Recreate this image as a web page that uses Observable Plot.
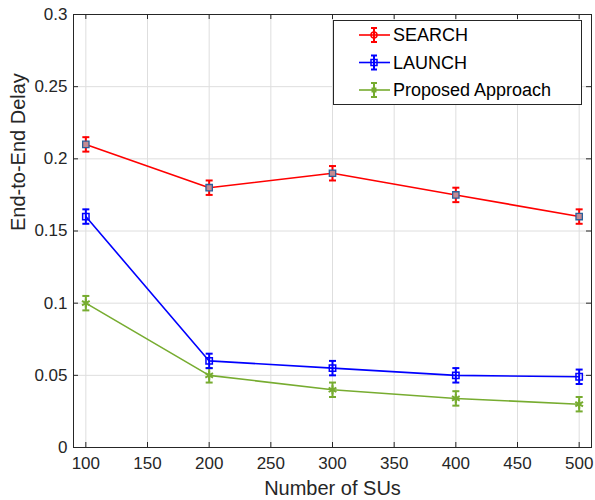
<!DOCTYPE html>
<html><head><meta charset="utf-8">
<script src="https://cdn.jsdelivr.net/npm/d3@7"></script>
<script src="https://cdn.jsdelivr.net/npm/@observablehq/plot@0.6"></script>
<style>
body{margin:0;background:#fff}
#wrap{position:relative;width:595px;height:500px;font-family:"Liberation Sans",Arial,Helvetica,sans-serif}
#legend{position:absolute;left:0;top:0;pointer-events:none}
</style>
</head><body><div id="wrap"></div>
<script>
// ---- data ----
const numberOfSUs = [100, 200, 300, 400, 500];
const seriesNames = ["SEARCH", "LAUNCH", "Proposed Approach"];
const searchDelay = [0.21, 0.18, 0.19, 0.175, 0.16];
const launchDelay = [0.16, 0.06, 0.055, 0.05, 0.049];
const proposedDelay = [0.10, 0.05, 0.04, 0.034, 0.030];
const searchErr = [0.005, 0.005, 0.005, 0.005, 0.005];
const launchErr = [0.005, 0.005, 0.005, 0.005, 0.005];
const proposedErr = [0.005, 0.005, 0.005, 0.005, 0.005];
const xTicks = [100, 150, 200, 250, 300, 350, 400, 450, 500];
const yTicks = [0, 0.05, 0.1, 0.15, 0.2, 0.25, 0.3];
const yTickLabels = ["0", "0.05", "0.1", "0.15", "0.2", "0.25", "0.3"];
const xLabel = "Number of SUs";
const yLabel = "End-to-End Delay";

// ---- styles ----
const colors = ["#ff0000", "#0000ff", "#77ac30"];
const W = 595, H = 500, mt = 14, mr = 4, mb = 53, ml = 73;
const ph = H - mt - mb, pw = W - ml - mr;
const ink = "#262626";

const values = [searchDelay, launchDelay, proposedDelay];
const errs = [searchErr, launchErr, proposedErr];
const rows = [];
seriesNames.forEach((s, i) => numberOfSUs.forEach((x, j) => rows.push({
  series: s, idx: i, x, y: values[i][j], lo: values[i][j] - errs[i][j], hi: values[i][j] + errs[i][j]
})));

const capSymbol = {draw(ctx, size) { const w = Math.sqrt(size) / 2; ctx.moveTo(-w, 0); ctx.lineTo(w, 0); }};

const marks = [
  Plot.ruleX(xTicks, {x: d => d, stroke: "#dedede", strokeWidth: 1}),
  Plot.ruleY(yTicks, {y: d => d, stroke: "#dedede", strokeWidth: 1}),
];
[2, 1, 0].forEach(i => {
  const d = rows.filter(r => r.idx === i);
  marks.push(Plot.line(d, {x: "x", y: "y", stroke: colors[i], strokeWidth: 1.6}));
  marks.push(Plot.ruleX(d, {x: "x", y1: "lo", y2: "hi", stroke: colors[i], strokeWidth: 2}));
  marks.push(Plot.dot(d, {x: "x", y: "lo", symbol: capSymbol, r: 3.95, stroke: colors[i], strokeWidth: 2, fill: "none"}));
  marks.push(Plot.dot(d, {x: "x", y: "hi", symbol: capSymbol, r: 3.95, stroke: colors[i], strokeWidth: 2, fill: "none"}));
  if (i === 0) marks.push(Plot.dot(d, {x: "x", y: "y", symbol: "square", r: 3.6, fill: "#c48a92", stroke: "#2b5f9a", strokeWidth: 1.3}));
  if (i === 1) marks.push(Plot.dot(d, {x: "x", y: "y", symbol: "square", r: 3.6, fill: "none", stroke: colors[1], strokeWidth: 1.5}));
  if (i === 2) marks.push(Plot.dot(d, {x: "x", y: "y", symbol: "asterisk", r: 4.2, stroke: colors[2], strokeWidth: 2}));
});
marks.push(
  Plot.frame({stroke: ink, strokeWidth: 1}),
  Plot.tickX(xTicks, {x: d => d, insetTop: ph - 5, stroke: ink}),
  Plot.tickX(xTicks, {x: d => d, insetBottom: ph - 5, stroke: ink}),
  Plot.tickY(yTicks, {y: d => d, insetRight: pw - 5, stroke: ink}),
  Plot.tickY(yTicks, {y: d => d, insetLeft: pw - 5, stroke: ink}),
  Plot.axisX(xTicks, {tickSize: 0, tickPadding: 9, fontSize: 17, fill: ink, label: null}),
  Plot.axisY(yTicks, {tickSize: 0, tickPadding: 6, fontSize: 17, fill: ink, label: null,
    tickFormat: d => yTickLabels[yTicks.indexOf(d)]}),
  Plot.text([xLabel], {frameAnchor: "bottom", dy: 41, text: d => d, fontSize: 20, fill: ink, lineAnchor: "middle"}),
  Plot.text([yLabel], {frameAnchor: "left", dx: -55, rotate: -90, text: d => d, fontSize: 20, fill: ink})
);

const chart = Plot.plot({
  width: W, height: H, marginTop: mt, marginRight: mr, marginBottom: mb, marginLeft: ml,
  style: {fontFamily: '"Liberation Sans", Arial, Helvetica, sans-serif', background: "#fff", color: ink, overflow: "visible"},
  x: {domain: [90, 510], axis: null},
  y: {domain: [0, 0.3], axis: null},
  marks
});
const wrap = document.getElementById("wrap");
wrap.appendChild(chart);

// ---- legend overlay ----
const svg = d3.select(wrap).append("svg").attr("id", "legend").attr("width", W).attr("height", H);
const box = {x: 333.5, y: 20.5, w: 248, h: 84};
svg.append("rect").attr("x", box.x).attr("y", box.y).attr("width", box.w).attr("height", box.h)
  .attr("fill", "#fff").attr("stroke", ink).attr("stroke-width", 1);
seriesNames.forEach((name, i) => {
  const cy = 35 + i * 27.5, c = colors[i];
  const g = svg.append("g");
  g.append("line").attr("x1", 359).attr("x2", 390).attr("y1", cy).attr("y2", cy).attr("stroke", c).attr("stroke-width", 1.6);
  g.append("line").attr("x1", 374).attr("x2", 374).attr("y1", cy - 7).attr("y2", cy + 7).attr("stroke", c).attr("stroke-width", 2);
  g.append("line").attr("x1", 371).attr("x2", 377).attr("y1", cy - 7).attr("y2", cy - 7).attr("stroke", c).attr("stroke-width", 2);
  g.append("line").attr("x1", 371).attr("x2", 377).attr("y1", cy + 7).attr("y2", cy + 7).attr("stroke", c).attr("stroke-width", 2);
  if (i === 0) g.append("circle").attr("cx", 374).attr("cy", cy).attr("r", 3).attr("fill", "none").attr("stroke", c).attr("stroke-width", 1.5);
  if (i === 1) g.append("rect").attr("x", 371).attr("y", cy - 3).attr("width", 6).attr("height", 6).attr("fill", "none").attr("stroke", c).attr("stroke-width", 1.5);
  if (i === 2) g.append("rect").attr("x", 371.5).attr("y", cy - 2.5).attr("width", 5).attr("height", 5).attr("fill", c);
  g.append("text").attr("x", 393).attr("y", cy).attr("dy", "0.35em").attr("font-size", 18).attr("fill", "#000").text(name);
});
</script>
</body></html>
